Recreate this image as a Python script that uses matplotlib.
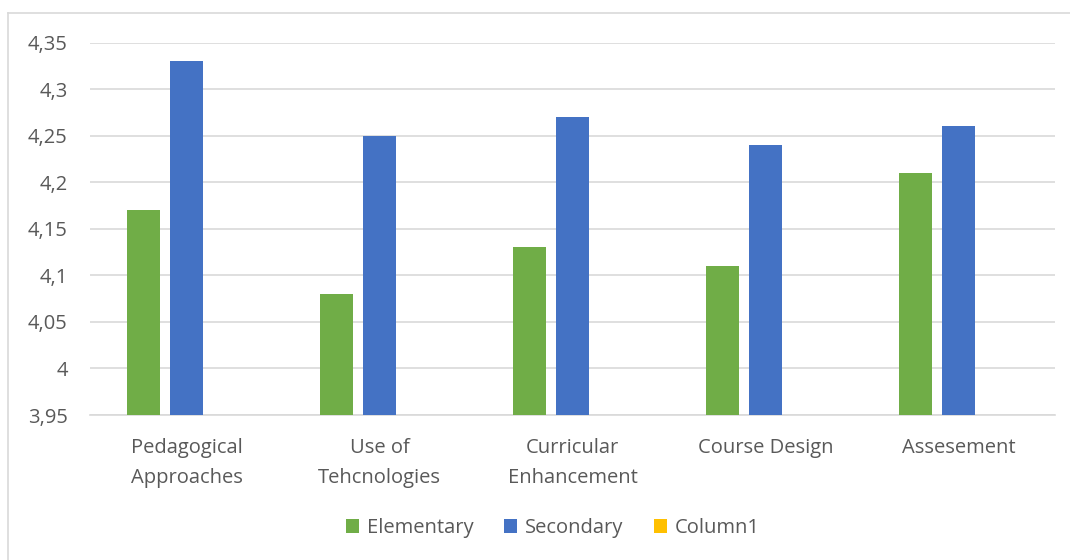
import numpy as np
import matplotlib.pyplot as plt
from matplotlib.lines import Line2D
from matplotlib.ticker import FuncFormatter

categories = ['Pedagogical\nApproaches', 'Use of\nTehcnologies', 'Curricular\nEnhancement',
              'Course Design', 'Assesement']
elementary = [4.17, 4.08, 4.13, 4.11, 4.21]
secondary = [4.33, 4.25, 4.27, 4.24, 4.26]
column1 = [0, 0, 0, 0, 0]
yticks = [3.95, 4.0, 4.05, 4.1, 4.15, 4.2, 4.25, 4.3, 4.35]

plt.rcParams['font.family'] = ['Open Sans', 'DejaVu Sans']
fs = 14.5

fig = plt.figure(figsize=(10.7, 5.6), dpi=100)
ax = fig.add_axes([90/1070, 1 - 415/560, 965/1070, (415 - 42.5)/560])

x = np.arange(len(categories))
w = 0.172
step = 0.222
ax.bar(x - step, elementary, w, color='#70AD47', label='Elementary', zorder=3)
ax.bar(x, secondary, w, color='#4472C4', label='Secondary', zorder=3)
ax.bar(x + step, column1, w, color='#FFC000', label='Column1', zorder=3)

ax.set_xlim(-0.5, len(categories) - 0.5)
ax.set_ylim(3.95, 4.35)
ax.set_yticks(yticks)
ax.yaxis.set_major_formatter(FuncFormatter(lambda v, p: ('%g' % round(v, 2)).replace('.', ',')))
ax.set_xticks(x)
ax.set_xticklabels(categories, fontsize=fs, color='#595959', linespacing=1.68)
ax.tick_params(axis='y', labelsize=fs, labelcolor='#595959', length=0, pad=16)
ax.tick_params(axis='x', length=0, pad=16.5)
ax.grid(axis='y', color='#D9D9D9', linewidth=1.2, zorder=0)
for s in ['top', 'right', 'left']:
    ax.spines[s].set_visible(False)
ax.spines['bottom'].set_color('#D9D9D9')
ax.spines['bottom'].set_linewidth(1.2)

ax.legend(loc='center', bbox_to_anchor=(553/1070, 1 - 528/560), bbox_transform=fig.transFigure,
          ncol=3, frameon=False, fontsize=fs, labelcolor='#595959',
          handlelength=0.65, handleheight=0.65, handletextpad=0.4, columnspacing=1.5)

# outer chart border
fig.add_artist(Line2D([8/1070, 1], [1 - 13/560, 1 - 13/560], color='#D9D9D9', lw=1.2))
fig.add_artist(Line2D([8/1070, 8/1070], [0, 1 - 13/560], color='#D9D9D9', lw=1.2))

fig.savefig('out.png', dpi=100)
